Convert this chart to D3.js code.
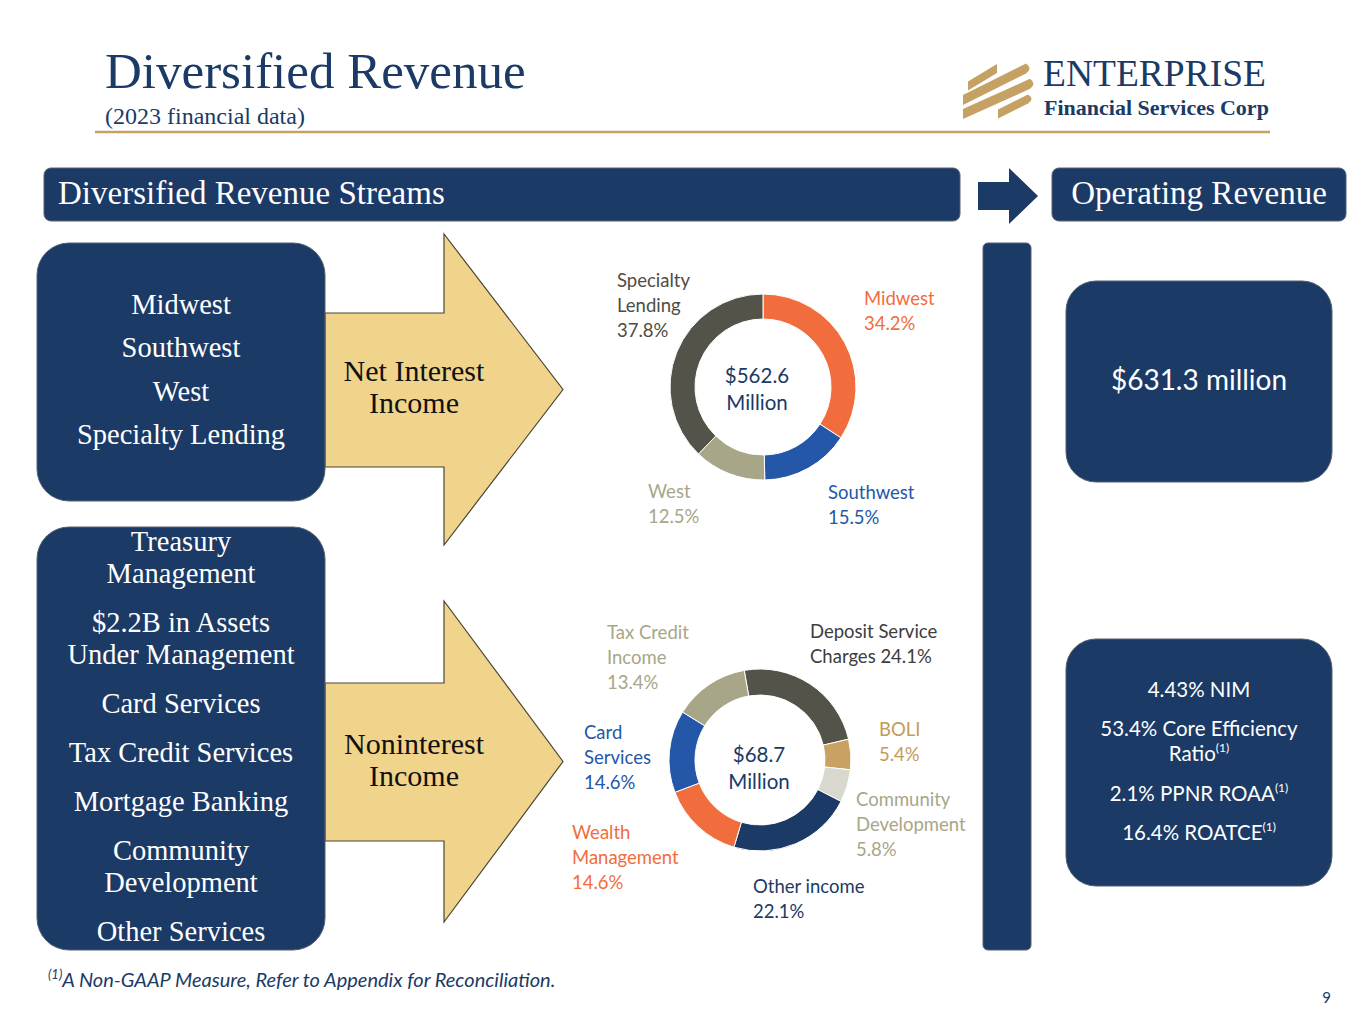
<!DOCTYPE html>
<html>
<head>
<meta charset="utf-8">
<script src="https://cdn.jsdelivr.net/npm/d3@7"></script>
<style>
  body { margin: 0; background: #fff; }
  svg { display: block; }
</style>
</head>
<body>
<div id="chart-container"></div>
<script>
// Net interest income by region
const niiCategories = ["Midwest", "Southwest", "West", "Specialty Lending"];
const niiValues = [34.2, 15.5, 12.5, 37.8];
const niiTotal = "$562.6";

// Noninterest income by source
const nonCategories = ["Deposit Service Charges", "BOLI", "Community Development", "Other income", "Wealth Management", "Card Services", "Tax Credit Income"];
const nonValues = [24.1, 5.4, 5.8, 22.1, 14.6, 14.6, 13.4];
const nonTotal = "$68.7";

const niiStreams = ["Midwest", "Southwest", "West", "Specialty Lending"];
const nonStreams = [["Treasury", "Management"], ["$2.2B in Assets", "Under Management"], ["Card Services"], ["Tax Credit Services"], ["Mortgage Banking"], ["Community", "Development"], ["Other Services"]];

const operatingRevenue = "$631.3 million";
const kpis = [["4.43% NIM", ""], ["53.4% Core Efficiency", ""], ["Ratio", "(1)"], ["2.1% PPNR ROAA", "(1)"], ["16.4% ROATCE", "(1)"]];

const navy = "#1b3a66";
const gold = "#c5a163";
const serif = "'Liberation Serif', 'DejaVu Serif', serif";
const sans = "Lato, 'Open Sans', sans-serif";

const niiColors = ["#f26d3d", "#2457a8", "#a8a688", "#545349"];
const nonColors = ["#545349", "#c9a263", "#d9d8cf", "#1b3a66", "#f26d3d", "#2457a8", "#a8a688"];
const niiLabelColors = ["#f26d3d", "#2457a8", "#a8a688", "#4d4d45"];
const nonLabelColors = ["#3d3d3d", "#c49a5a", "#a8a688", "#1b3a66", "#f26d3d", "#2457a8", "#a8a688"];

var svg = d3.select("#chart-container")
    .append("svg")
    .attr("width", 1365)
    .attr("height", 1024);

svg.append("rect").attr("width", 1365).attr("height", 1024).attr("fill", "#fff");

// Title
svg.append("text")
    .attr("x", 105).attr("y", 88)
    .style("font-family", serif).style("font-size", "51px")
    .attr("fill", navy)
    .text("Diversified Revenue");

svg.append("text")
    .attr("x", 105).attr("y", 124)
    .style("font-family", serif).style("font-size", "24px")
    .attr("fill", navy)
    .text("(2023 financial data)");

svg.append("line")
    .attr("x1", 95).attr("x2", 1270).attr("y1", 132).attr("y2", 132)
    .attr("stroke", gold).attr("stroke-width", 2.5);

// Logo mark: slanted gold bands
var logo = svg.append("g");
function band(xl, xr, yc, slope, th, round) {
    var yr = yc + slope * (xr - xl);
    var d = `M${xl},${yc - th / 2} L${xr},${yr - th / 2} `;
    d += round ? `Q${xr + 7},${yr} ${xr},${yr + th / 2} ` : `L${xr},${yr + th / 2} `;
    d += `L${xl},${yc + th / 2} Z`;
    logo.append("path").attr("d", d).attr("fill", gold);
}
band(968, 997, 86, -0.6, 9, false);
band(963, 1026, 100, -0.5, 10, true);
band(963, 1030, 114, -0.45, 10, true);
band(998, 1028, 114, -0.5, 9, true);
logo.append("text")
    .attr("x", 1043).attr("y", 86)
    .style("font-family", serif).style("font-size", "37.5px")
    .attr("fill", navy)
    .text("ENTERPRISE");
logo.append("text")
    .attr("x", 1044).attr("y", 115)
    .style("font-family", serif).style("font-size", "22px").style("font-weight", "bold")
    .attr("fill", navy)
    .text("Financial Services Corp");

// Header bars
function bar(x, y, w, h, r) {
    return svg.append("rect")
        .attr("x", x).attr("y", y).attr("width", w).attr("height", h)
        .attr("rx", r).attr("ry", r)
        .attr("fill", navy).attr("stroke", "#55606e").attr("stroke-width", 1);
}

bar(44, 168, 916, 53, 7);
svg.append("text")
    .attr("x", 58).attr("y", 204)
    .style("font-family", serif).style("font-size", "33px")
    .attr("fill", "#fff")
    .text("Diversified Revenue Streams");

svg.append("path")
    .attr("d", "M978,182 L1009,182 L1009,168 L1038,196 L1009,224 L1009,210 L978,210 Z")
    .attr("fill", navy);

bar(1052, 168, 294, 53, 7);
svg.append("text")
    .attr("x", 1199).attr("y", 204)
    .attr("text-anchor", "middle")
    .style("font-family", serif).style("font-size", "33px")
    .attr("fill", "#fff")
    .text("Operating Revenue");

bar(983, 243, 48, 707, 5);

// Big gold arrows
function bigArrow(top, bottom, shaftTop, shaftBottom) {
    var mid = (top + bottom) / 2;
    svg.append("path")
        .attr("d", `M325,${shaftTop} L444,${shaftTop} L444,${top} L563,${mid} L444,${bottom} L444,${shaftBottom} L325,${shaftBottom} Z`)
        .attr("fill", "#f0d48c").attr("stroke", "#4a4535").attr("stroke-width", 1.2);
}
bigArrow(234, 545, 313, 467);
bigArrow(601, 922, 683, 841);

function arrowLabel(lines, y) {
    lines.forEach(function (t, i) {
        svg.append("text")
            .attr("x", 414).attr("y", y + i * 32)
            .attr("text-anchor", "middle")
            .style("font-family", serif).style("font-size", "30px")
            .attr("fill", "#111")
            .text(t);
    });
}
arrowLabel(["Net Interest", "Income"], 381);
arrowLabel(["Noninterest", "Income"], 754);

// Left stream boxes
bar(37, 243, 288, 258, 32);
niiStreams.forEach(function (t, i) {
    svg.append("text")
        .attr("x", 181).attr("y", 314 + i * 43.3)
        .attr("text-anchor", "middle")
        .style("font-family", serif).style("font-size", "28.5px")
        .attr("fill", "#fff")
        .text(t);
});

bar(37, 527, 288, 423, 32);
var yy = 551;
nonStreams.forEach(function (lines) {
    lines.forEach(function (t, j) {
        svg.append("text")
            .attr("x", 181).attr("y", yy + j * 32)
            .attr("text-anchor", "middle")
            .style("font-family", serif).style("font-size", "28.5px")
            .attr("fill", "#fff")
            .text(t);
    });
    yy += (lines.length - 1) * 32 + 49;
});

// Donuts
function donut(cx, cy, rOut, rIn, start, values, colors) {
    var pie = d3.pie().sort(null)
        .startAngle(start).endAngle(start + 2 * Math.PI)
        .value(function (d) { return d; });
    var arc = d3.arc().innerRadius(rIn).outerRadius(rOut);
    var g = svg.append("g").attr("transform", `translate(${cx}, ${cy})`);
    g.selectAll("path")
        .data(pie(values))
        .join("path")
        .attr("d", arc)
        .attr("fill", function (d, i) { return colors[i]; })
        .attr("stroke", "#fff").attr("stroke-width", 1);
    return g;
}

function multiLabel(x, y, lines, color, anchor, size, lead) {
    var t = svg.append("text")
        .attr("x", x).attr("y", y)
        .attr("text-anchor", anchor || "start")
        .style("font-family", sans).style("font-size", (size || 18.5) + "px")
        .attr("fill", color);
    lines.forEach(function (l, i) {
        t.append("tspan").attr("x", x).attr("dy", i ? (lead || 25) : 0).text(l);
    });
    return t;
}

const pct = function (v) { return v.toFixed(1) + "%"; };

donut(763, 387, 93, 68, 0, niiValues, niiColors);
multiLabel(757, 383, [niiTotal, "Million"], navy, "middle", 20.5, 27);

// label anchors (layout only)
const niiLabelPos = [[864, 305], [828, 499], [648, 498], [617, 287]];
const niiLabelLines = [["Midwest"], ["Southwest"], ["West"], ["Specialty", "Lending"]];
niiValues.forEach(function (v, i) {
    multiLabel(niiLabelPos[i][0], niiLabelPos[i][1], niiLabelLines[i].concat([pct(v)]), niiLabelColors[i]);
});

donut(760, 760, 91, 65, -10 * Math.PI / 180, nonValues, nonColors);
multiLabel(759, 762, [nonTotal, "Million"], navy, "middle", 20.5, 27);

const nonLabelPos = [[810, 638], [879, 736], [856, 806], [753, 893], [572, 839], [584, 739], [607, 639]];
const nonLabelLines = [["Deposit Service"], ["BOLI"], ["Community", "Development"], ["Other income"], ["Wealth", "Management"], ["Card", "Services"], ["Tax Credit", "Income"]];
nonValues.forEach(function (v, i) {
    var lines = nonLabelLines[i].slice();
    if (i === 0) lines.push("Charges " + pct(v));
    else lines.push(pct(v));
    multiLabel(nonLabelPos[i][0], nonLabelPos[i][1], lines, nonLabelColors[i]);
});

// Operating revenue boxes
bar(1066, 281, 266, 201, 30);
svg.append("text")
    .attr("x", 1199).attr("y", 390)
    .attr("text-anchor", "middle")
    .style("font-family", sans).style("font-size", "28px")
    .attr("fill", "#fff")
    .text(operatingRevenue);

bar(1066, 639, 266, 247, 30);
const kpiY = [697, 736, 761, 801, 840];
kpis.forEach(function (k, i) {
    var t = svg.append("text")
        .attr("x", 1199).attr("y", kpiY[i])
        .attr("text-anchor", "middle")
        .style("font-family", sans).style("font-size", "20.5px")
        .attr("fill", "#fff");
    t.append("tspan").text(k[0]);
    if (k[1]) {
        t.append("tspan").attr("dy", -9).style("font-size", "12px").text(k[1]);
    }
});

// Footnote
var fn = svg.append("text")
    .attr("x", 48).attr("y", 987)
    .style("font-family", sans).style("font-size", "20px").style("font-style", "italic")
    .attr("fill", navy);
fn.append("tspan").attr("dy", -8).style("font-size", "13px").text("(1)");
fn.append("tspan").attr("dy", 8).text("A Non-GAAP Measure, Refer to Appendix for Reconciliation.");

svg.append("text")
    .attr("x", 1331).attr("y", 1003)
    .attr("text-anchor", "end")
    .style("font-family", sans).style("font-size", "15px")
    .attr("fill", navy)
    .text("9");
</script>
</body>
</html>
